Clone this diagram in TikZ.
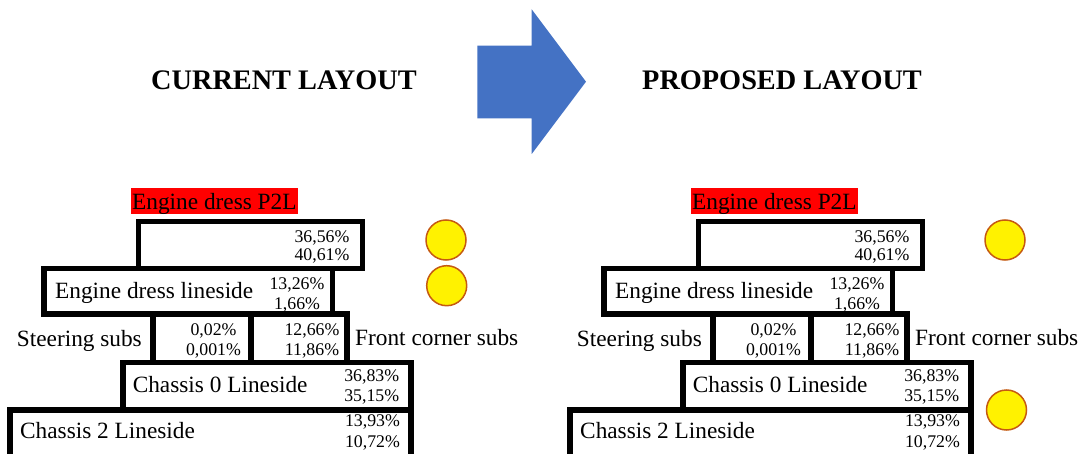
\documentclass[tikz,border=0pt]{standalone}
\usepackage{fontspec}
\setmainfont{Liberation Serif}
\definecolor{arrowblue}{HTML}{4472C4}
\definecolor{dotline}{HTML}{C55A11}
\definecolor{tagred}{HTML}{FF0000}
% two stacked percentages, baseline on the first line
\newcommand{\twoval}[3][0pt]{\begin{tabular}[t]{@{}c@{}}#2\\[#1]#3\end{tabular}}
\begin{document}
\begin{tikzpicture}[x=1pt,y=-1pt,
  box/.style={draw=black, line width=5.5pt, fill=white, inner sep=0pt, outer sep=0pt},
  lbl/.style={inner sep=0pt, anchor=base west, font=\fontsize{23.3}{26}\selectfont},
  pct/.style={inner sep=0pt, anchor=base, font=\fontsize{17.8}{20}\selectfont},
  heading/.style={inner sep=0pt, anchor=base west, font=\fontsize{28.3}{32}\selectfont\bfseries},
  tag/.style={lbl, fill=tagred, inner xsep=1pt, inner ysep=0pt, text height=21pt, text depth=5pt},
  dot/.style={circle, draw=dotline, fill=yellow, line width=1.5pt, minimum size=40pt, inner sep=0pt},
]
\useasboundingbox (0,0) rectangle (1086,454);
\clip (0,0) rectangle (1086,454);

% headings and transition arrow
\node[heading] (cur) at (151,89.3) {CURRENT LAYOUT};
\node[heading] (prop) at (642,89.3) {PROPOSED LAYOUT};
\fill[arrowblue] (477.3,45.7) -- (531.7,45.7) -- (531.7,9.3) -- (586,81.7)
  -- (531.7,154) -- (531.7,118.3) -- (477.3,118.3) -- cycle;

% the two stacked layouts
\foreach \s/\dx in {L/0,R/560}{
  \begin{scope}[xshift=\dx pt]
    \node[box, minimum width=223.8pt, minimum height=47pt] (\s-top) at (250.6,244.8) {};
    \node[box, minimum width=288.5pt, minimum height=45.7pt] (\s-eng) at (188.25,291.15) {};
    \node[box, minimum width=98pt, minimum height=48.5pt] (\s-steer) at (202,338.25) {};
    \node[box, minimum width=96pt, minimum height=48.5pt] (\s-front) at (299,338.25) {};
    \node[box, minimum width=288pt, minimum height=47.5pt] (\s-ch0) at (267,386.25) {};
    \node[box, minimum width=401pt, minimum height=60pt] (\s-ch2) at (210.5,440) {};

    \node[tag] (\s-p2l) at (131,209.3) {Engine dress P2L};
    \node[lbl] (\s-englbl) at (55,298.3) {Engine dress lineside};
    \node[lbl] (\s-steerlbl) at (16.7,346.7) {Steering subs};
    \node[lbl] (\s-frontlbl) at (355,345) {Front corner subs};
    \node[lbl] (\s-ch0lbl) at (132.6,392.5) {Chassis 0 Lineside};
    \node[lbl] (\s-ch2lbl) at (20,438) {Chassis 2 Lineside};

    \node[pct] (\s-toppct) at (322,242.5) {\twoval[-1.5pt]{36,56\%}{40,61\%}};
    \node[pct] (\s-engpct) at (297,289.5) {\twoval{13,26\%}{1,66\%}};
    \node[pct] (\s-steerpct) at (213.5,335) {\twoval{0,02\%}{0,001\%}};
    \node[pct] (\s-frontpct) at (312,335) {\twoval{12,66\%}{11,86\%}};
    \node[pct] (\s-ch0pct) at (371.7,381.7) {\twoval{36,83\%}{35,15\%}};
    \node[pct] (\s-ch2pct) at (372.5,426) {\twoval[1.7pt]{13,93\%}{10,72\%}};
  \end{scope}
}

% yellow markers
\node[dot] (L-dot1) at (446,240) {};
\node[dot] (L-dot2) at (446.7,285.7) {};
\node[dot] (R-dot1) at (1005,240) {};
\node[dot] (R-dot2) at (1006.5,410) {};
\end{tikzpicture}
\end{document}
